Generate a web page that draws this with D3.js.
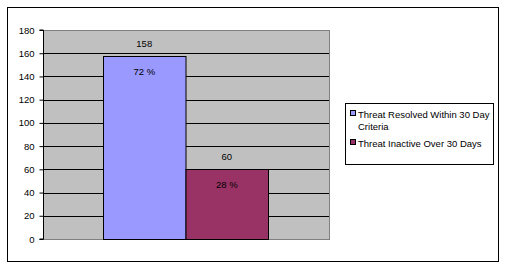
<!DOCTYPE html>
<html>
<head>
<meta charset="utf-8">
<script src="https://cdnjs.cloudflare.com/ajax/libs/d3/7.8.5/d3.min.js"></script>
<style>
  body { margin: 0; background: #fff; }
  svg { display: block; font-family: "Liberation Sans", Arial, sans-serif; }
</style>
</head>
<body>
<svg id="chart" width="507" height="269"></svg>
<script>
// données du graphique
const series = ['Threat Resolved Within 30 Day Criteria', 'Threat Inactive Over 30 Days'];
const legendLines = [['Threat Resolved Within 30 Day', 'Criteria'], ['Threat Inactive Over 30 Days']];
const values = [158, 60];
const percents = ['72 %', '28 %'];
const colors = ['#9999FF', '#993366'];
const yTicks = [0, 20, 40, 60, 80, 100, 120, 140, 160, 180];

const svg = d3.select('#chart');

// cadre extérieur
svg.append('rect')
    .attr('x', 7.5).attr('y', 7.5)
    .attr('width', 491).attr('height', 254)
    .attr('fill', '#fff').attr('stroke', '#000').attr('stroke-width', 1);

const plot = { left: 43, top: 30, right: 330, bottom: 239 };

const y = d3.scaleLinear().domain([0, 180]).range([plot.bottom, plot.top]);
const x = d3.scaleBand().domain(series)
    .range([103, 268]).paddingInner(0).paddingOuter(0);

const g = svg.append('g');

// fond de la zone de tracé
g.append('rect')
    .attr('x', plot.left).attr('y', plot.top)
    .attr('width', plot.right - plot.left).attr('height', plot.bottom - plot.top)
    .attr('fill', '#C0C0C0');

// quadrillage
g.append('g').selectAll('line')
    .data(yTicks.filter(d => d > 0 && d < 180))
    .join('line')
    .attr('x1', plot.left).attr('x2', plot.right)
    .attr('y1', d => Math.round(y(d)) + 0.5).attr('y2', d => Math.round(y(d)) + 0.5)
    .attr('stroke', '#000');

// bordure grise
g.append('rect')
    .attr('x', plot.left + 0.5).attr('y', plot.top + 0.5)
    .attr('width', plot.right - plot.left - 1).attr('height', plot.bottom - plot.top)
    .attr('fill', 'none').attr('stroke', '#808080');

// barres
g.append('g').selectAll('rect')
    .data(values)
    .join('rect')
    .attr('x', (d, i) => x(series[i]) + 0.5)
    .attr('y', d => Math.round(y(d)) + 0.5)
    .attr('width', x.bandwidth())
    .attr('height', d => plot.bottom - Math.round(y(d)))
    .attr('fill', (d, i) => colors[i])
    .attr('stroke', '#000');

// étiquettes des barres
g.append('g').selectAll('text.val')
    .data(values)
    .join('text')
    .attr('class', 'val')
    .attr('x', (d, i) => x(series[i]) + x.bandwidth() / 2)
    .attr('y', d => y(d) - 9)
    .attr('text-anchor', 'middle')
    .attr('font-size', 9.5)
    .text(d => d);

g.append('g').selectAll('text.pct')
    .data(values)
    .join('text')
    .attr('class', 'pct')
    .attr('x', (d, i) => x(series[i]) + x.bandwidth() / 2)
    .attr('y', d => y(d) + 19)
    .attr('text-anchor', 'middle')
    .attr('font-size', 9.5)
    .text((d, i) => percents[i]);

// axe Y
const yAxis = d3.axisLeft(y).tickValues(yTicks).tickSize(4).tickPadding(5);
const ax = g.append('g')
    .attr('transform', `translate(${plot.left + 0.5},0)`)
    .call(yAxis);
ax.select('.domain').attr('stroke', '#000').attr('d', `M-4,${plot.top}H0V${plot.bottom}H-4`);
ax.selectAll('.tick line').attr('stroke', '#000');
ax.selectAll('.tick text')
    .attr('font-size', 9.5)
    .attr('font-family', '"Liberation Sans", Arial, sans-serif')
    .attr('fill', '#000');

// légende
const leg = svg.append('g');
leg.append('rect')
    .attr('x', 345.5).attr('y', 103.5)
    .attr('width', 148).attr('height', 61)
    .attr('fill', '#fff').attr('stroke', '#000');

const legY = [114, 143];
legendLines.forEach((lines, i) => {
    leg.append('rect')
        .attr('x', 350.5).attr('y', legY[i] - 3.5)
        .attr('width', 5).attr('height', 5)
        .attr('fill', colors[i]).attr('stroke', '#000');
    lines.forEach((t, j) => {
        leg.append('text')
            .attr('x', 358)
            .attr('y', legY[i] + j * 12 + 3.5)
            .attr('font-size', 9.5)
            .text(t);
    });
});
</script>
</body>
</html>
